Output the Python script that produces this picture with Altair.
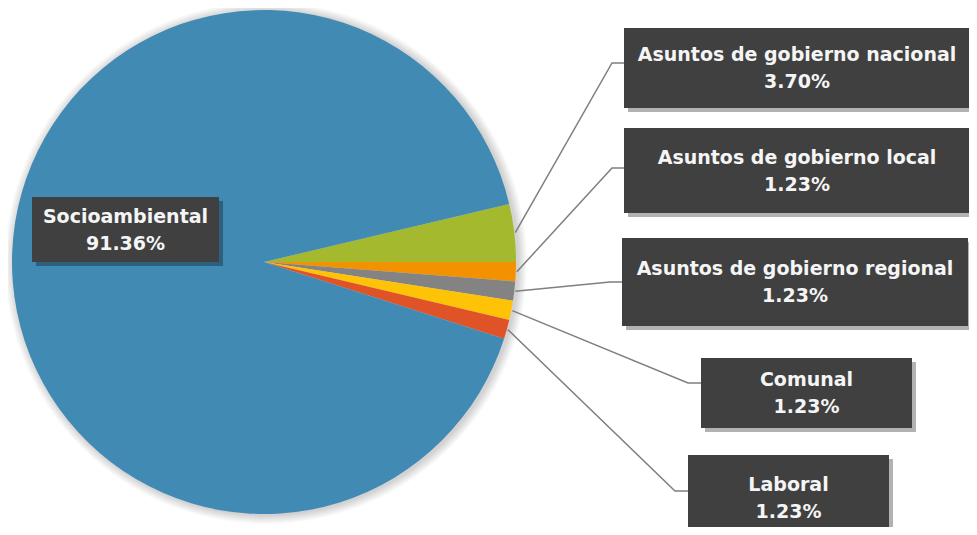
import math
import altair as alt
import pandas as pd

# ---- data ----
categories = ["Asuntos de gobierno nacional", "Asuntos de gobierno local",
              "Asuntos de gobierno regional", "Comunal", "Laboral", "Socioambiental"]
values = [3.70, 1.23, 1.23, 1.23, 1.23, 91.36]
pct_labels = ["3.70%", "1.23%", "1.23%", "1.23%", "1.23%", "91.36%"]
colors = ["#A5B92E", "#F39200", "#838383", "#FEC306", "#DF5327", "#418AB3"]

# ---- layout (chart pixel coords) ----
CX, CY, R = 256, 254, 252
# label boxes: x0, y0, x1, y1
boxes = [(616, 20, 962, 100), (616, 120, 962, 205), (614, 230, 960, 318),
         (693, 350, 904, 420), (680, 447, 881, 532), (24, 189, 211, 254)]
# leader elbows (x, y)
elbows = [(604, 55), (604, 160), (602, 274), (680, 375), (667, 483)]

total = sum(values)
start = math.pi / 2 - values[0] / total * 2 * math.pi

pie_df = pd.DataFrame({"cat": categories, "value": values, "idx": list(range(6))})

pie = alt.Chart(pie_df).mark_arc(stroke=None).encode(
    theta=alt.Theta("value:Q", stack=True,
                    scale=alt.Scale(range=[start, start + 2 * math.pi])),
    order=alt.Order("idx:Q"),
    color=alt.Color("cat:N", scale=alt.Scale(domain=categories, range=colors), legend=None),
    x=alt.value(CX), y=alt.value(CY), radius=alt.value(R),
)

# soft shadow around pie
shadows = []
for k in range(1, 10):
    shadows.append(
        alt.Chart(pd.DataFrame([{"k": k}])).mark_arc(
            theta=0, theta2=2 * math.pi, color="#000000", opacity=0.02
        ).encode(x=alt.value(CX + 2), y=alt.value(CY + 1), radius=alt.value(R + k))
    )

# leader lines: start at slice mid-angle on pie edge
line_rows = []
cum = 0.0
for i in range(5):
    mid = start + (cum + values[i] / 2) / total * 2 * math.pi
    cum += values[i]
    sx = CX + (R + 1) * math.sin(mid)
    sy = CY - (R + 1) * math.cos(mid)
    ex, ey = elbows[i]
    bx = boxes[i][0]
    for j, (px, py) in enumerate([(sx, sy), (ex, ey), (bx, ey)]):
        line_rows.append({"cat": categories[i], "seq": j, "px": px, "py": py})
lines = alt.Chart(pd.DataFrame(line_rows)).mark_line(color="#7F7F7F", strokeWidth=1.5).encode(
    x=alt.X("px:Q", scale=None), y=alt.Y("py:Q", scale=None),
    detail="cat:N", order="seq:Q",
)

box_df = pd.DataFrame({
    "x0": [b[0] for b in boxes], "y0": [b[1] for b in boxes],
    "x1": [b[2] for b in boxes], "y1": [b[3] for b in boxes],
    "sx0": [b[0] + 4 for b in boxes], "sy0": [b[1] + 4 for b in boxes],
    "sx1": [b[2] + 4 for b in boxes], "sy1": [b[3] + 4 for b in boxes],
    "tx": [(b[0] + b[2]) / 2 for b in boxes], "ty": [(b[1] + b[3]) / 2 - 13 for b in boxes],
    "label": [c + "\n" + p for c, p in zip(categories, pct_labels)],
})

box_shadow = alt.Chart(box_df).mark_rect(color="#000000", opacity=0.3).encode(
    x=alt.X("sx0:Q", scale=None), x2="sx1:Q",
    y=alt.Y("sy0:Q", scale=None), y2="sy1:Q",
)
box = alt.Chart(box_df).mark_rect(color="#404040").encode(
    x=alt.X("x0:Q", scale=None), x2="x1:Q",
    y=alt.Y("y0:Q", scale=None), y2="y1:Q",
)
text = alt.Chart(box_df).mark_text(
    font="DejaVu Sans", fontWeight="bold", fontSize=19, color="#F5F5F5",
    lineBreak="\n", lineHeight=27, align="center", baseline="middle",
).encode(
    x=alt.X("tx:Q", scale=None), y=alt.Y("ty:Q", scale=None), text="label:N",
)

chart = alt.layer(*shadows, pie, lines, box_shadow, box, text).properties(
    width=961, height=519, padding=0, autosize=alt.AutoSizeParams(type="none"),
).configure_view(stroke=None)

chart.save("out.html", embed_options={"renderer": "svg", "actions": False})
